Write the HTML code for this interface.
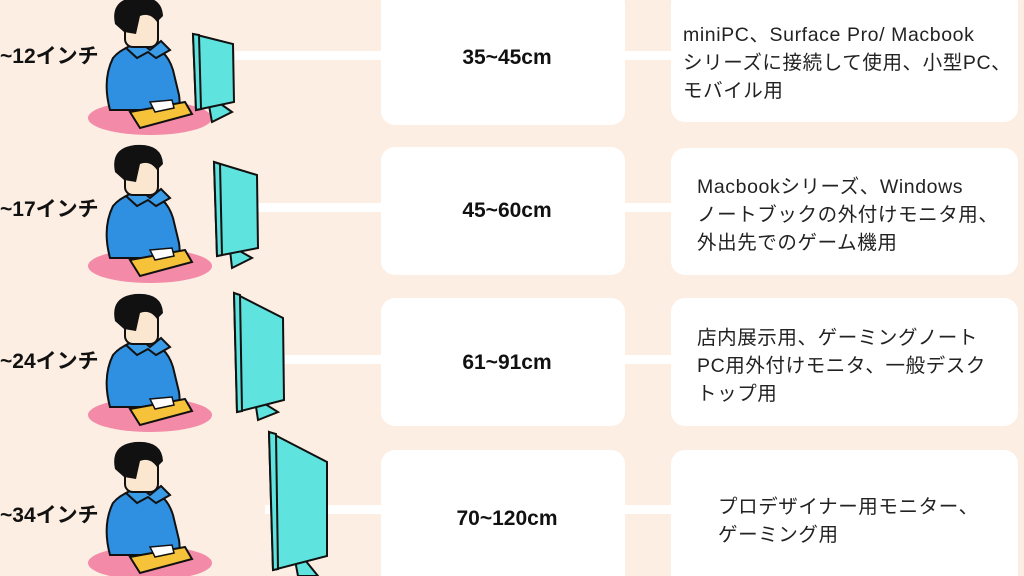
<!DOCTYPE html>
<html><head><meta charset="utf-8"><style>
html,body{margin:0;padding:0;}
body{width:1024px;height:576px;overflow:hidden;background:#fdeee3;font-family:"Liberation Sans","Noto Sans CJK JP",sans-serif;}
</style></head><body>
<svg width="1024" height="576" viewBox="0 0 1024 576" xmlns="http://www.w3.org/2000/svg" style="position:absolute;left:0;top:0">
<defs>
<g id="person">
  <ellipse cx="150" cy="118" rx="62" ry="17" fill="#f28aa8"/>
  <path d="M110 110 Q102 80 113 58 Q125 44 145 45 Q166 47 173 70 L179 95 Q181 108 176 110 Z" fill="#2f8fe0" stroke="#111" stroke-width="2"/>
  <path d="M126 48 L139 41 L150 50 L161 41 L170 50 L156 58 L148 52 L137 58 Z" fill="#3a9be6" stroke="#111" stroke-width="2"/>
  <rect x="125" y="12" width="33" height="35" rx="8" fill="#fbe6cf" stroke="#111" stroke-width="2"/>
  <path d="M115 24 Q110 0 135 -3 Q162 -5 163 16 L157 22 Q150 12 140 16 L136 34 L124 32 Z" fill="#111"/>
  <path d="M130 112 L185 102 L192 114 L140 128 Z" fill="#f5c23a" stroke="#111" stroke-width="2"/>
  <path d="M150 102 L172 100 L174 108 L155 112 Z" fill="#fff" stroke="#111" stroke-width="1.5"/>
</g>
</defs>
<g fill="#fff">
<rect x="381" y="-10" width="244" height="135" rx="14"/>
<rect x="381" y="147" width="244" height="128" rx="14"/>
<rect x="381" y="298" width="244" height="128" rx="14"/>
<rect x="381" y="450" width="244" height="140" rx="14"/>
<rect x="671" y="-10" width="347" height="132" rx="14"/>
<rect x="671" y="148" width="347" height="127" rx="14"/>
<rect x="671" y="298" width="347" height="128" rx="14"/>
<rect x="671" y="450" width="347" height="140" rx="14"/>
<rect x="235" y="51" width="150" height="9"/>
<rect x="620" y="51" width="55" height="9"/>
<rect x="258" y="203" width="127" height="9"/>
<rect x="620" y="203" width="55" height="9"/>
<rect x="285" y="355" width="100" height="9"/>
<rect x="620" y="355" width="55" height="9"/>
<rect x="265" y="505" width="120" height="9"/>
<rect x="620" y="505" width="55" height="9"/>
</g>
<use href="#person" x="0" y="0"/>
<use href="#person" x="0" y="148"/>
<use href="#person" x="0" y="297"/>
<use href="#person" x="0" y="445"/>
<g fill="#5ee3de" stroke="#111" stroke-width="2">
<path d="M208 100 L212 122 L232 112 L218 102Z"/><path d="M193 34 L233 44 L234 102 L196 110 Z"/><path d="M193 34 L199 35 L201 109 L196 110Z"/>
<path d="M230 250 L232 268 L252 258 L238 250Z"/><path d="M214 162 L257 175 L258 248 L217 256 Z"/><path d="M214 162 L220 164 L222 255 L217 256Z"/>
<path d="M255 400 L258 420 L278 412 L262 402Z"/><path d="M234 293 L283 318 L284 400 L237 412 Z"/><path d="M234 293 L240 295 L242 411 L237 412Z"/>
<path d="M295 560 L298 576 L318 576 L305 560Z"/><path d="M269 432 L327 462 L327 556 L273 570 Z"/><path d="M269 432 L276 434 L278 569 L273 570Z"/>
</g>
<g font-weight="bold" font-size="21" fill="#111">
<text x="0" y="63">~12インチ</text>
<text x="0" y="216">~17インチ</text>
<text x="0" y="368">~24インチ</text>
<text x="0" y="522">~34インチ</text>
</g>
<g font-weight="bold" font-size="21" fill="#111" text-anchor="middle">
<text x="507" y="64">35~45cm</text>
<text x="507" y="217">45~60cm</text>
<text x="507" y="369">61~91cm</text>
<text x="507" y="525">70~120cm</text>
</g>
<g font-size="19.5" fill="#222" letter-spacing="0.6">
<text x="683" y="41">miniPC、Surface Pro/ Macbook</text>
<text x="683" y="69">シリーズに接続して使用、小型PC、</text>
<text x="683" y="97">モバイル用</text>
<text x="697" y="193">Macbookシリーズ、Windows</text>
<text x="697" y="221">ノートブックの外付けモニタ用、</text>
<text x="697" y="249">外出先でのゲーム機用</text>
<text x="697" y="344">店内展示用、ゲーミングノート</text>
<text x="697" y="372">PC用外付けモニタ、一般デスク</text>
<text x="697" y="400">トップ用</text>
<text x="718" y="513">プロデザイナー用モニター、</text>
<text x="718" y="541">ゲーミング用</text>
</g>
</svg>
</body></html>
